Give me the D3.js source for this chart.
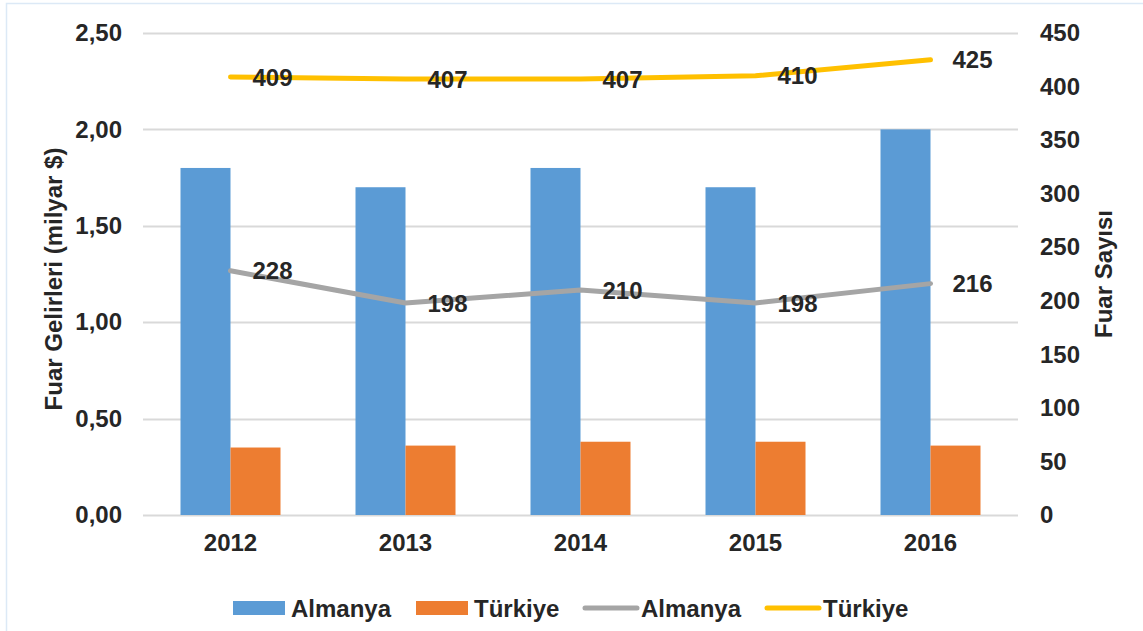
<!DOCTYPE html>
<html>
<head>
<meta charset="utf-8">
<script src="https://cdn.jsdelivr.net/npm/d3@7"></script>
<style>
  body { margin: 0; background: #fff; }
  svg { display: block; font-family: "Liberation Sans", Arial, sans-serif; }
</style>
</head>
<body>
<svg id="drawing_region"></svg>
<script>
// data
const years = ['2012', '2013', '2014', '2015', '2016'];
const gelirAlmanya = [1.80, 1.70, 1.80, 1.70, 2.00];
const gelirTurkiye = [0.35, 0.36, 0.38, 0.38, 0.36];
const sayiAlmanya = [228, 198, 210, 198, 216];
const sayiTurkiye = [409, 407, 407, 410, 425];
const leftTicks = [0, 0.5, 1.0, 1.5, 2.0, 2.5];
const rightTicks = [0, 50, 100, 150, 200, 250, 300, 350, 400, 450];

const colors = { barDe: '#5B9BD5', barTr: '#ED7D31', lineDe: '#A5A5A5', lineTr: '#FFC000' };
const textColor = '#262626';
const fontSize = '24px';

const config = {
    width: 1143,
    height: 631,
    margin: {top: 33, right: 125, bottom: 116, left: 143}
};

const svg = d3.select('#drawing_region')
    .attr('width', config.width)
    .attr('height', config.height);

// faint frame
svg.append('rect')
    .attr('x', 6.5).attr('y', 3.5)
    .attr('width', config.width).attr('height', config.height)
    .attr('fill', 'none')
    .attr('stroke', '#dce9f6')
    .attr('stroke-width', 1.5);

const inner_width = config.width - config.margin.left - config.margin.right;
const inner_height = config.height - config.margin.top - config.margin.bottom;

const chart = svg.append('g')
    .attr('transform', `translate(${config.margin.left}, ${config.margin.top})`);

const xscale = d3.scaleBand()
    .domain(years)
    .range([0, inner_width])
    .paddingInner(75 / 175)
    .paddingOuter(37.5 / 175);

const sub = d3.scaleBand()
    .domain(['de', 'tr'])
    .range([0, xscale.bandwidth()]);

const yleft = d3.scaleLinear().domain([0, 2.5]).range([inner_height, 0]);
const yright = d3.scaleLinear().domain([0, 450]).range([inner_height, 0]);

// gridlines
chart.append('g')
    .selectAll('line')
    .data(leftTicks)
    .join('line')
    .attr('x1', 0)
    .attr('x2', inner_width)
    .attr('y1', d => Math.round(yleft(d)) + 0.5)
    .attr('y2', d => Math.round(yleft(d)) + 0.5)
    .attr('stroke', '#d9d9d9')
    .attr('stroke-width', 2);

// axes
const fmt = d => d.toFixed(2).replace('.', ',');
const yaxisL = chart.append('g')
    .call(d3.axisLeft(yleft).tickValues(leftTicks).tickFormat(fmt).tickSize(0).tickPadding(21));
const yaxisR = chart.append('g')
    .attr('transform', `translate(${inner_width}, 0)`)
    .call(d3.axisRight(yright).tickValues(rightTicks).tickSize(0).tickPadding(22));
const xaxis = chart.append('g')
    .attr('transform', `translate(0, ${inner_height})`)
    .call(d3.axisBottom(xscale).tickSize(0).tickPadding(19));

[yaxisL, yaxisR, xaxis].forEach(g => {
    g.select('.domain').remove();
    g.selectAll('text')
        .attr('fill', textColor)
        .style('font-size', fontSize)
        .style('font-weight', 'bold')
        .style('font-family', '"Liberation Sans", Arial, sans-serif');
});

// bars
const groups = chart.append('g')
    .selectAll('g')
    .data(years)
    .join('g')
    .attr('transform', d => `translate(${xscale(d)}, 0)`);

groups.append('rect')
    .attr('x', sub('de'))
    .attr('y', (d, i) => yleft(gelirAlmanya[i]))
    .attr('width', sub.bandwidth())
    .attr('height', (d, i) => inner_height - yleft(gelirAlmanya[i]))
    .attr('fill', colors.barDe);

groups.append('rect')
    .attr('x', sub('tr'))
    .attr('y', (d, i) => yleft(gelirTurkiye[i]))
    .attr('width', sub.bandwidth())
    .attr('height', (d, i) => inner_height - yleft(gelirTurkiye[i]))
    .attr('fill', colors.barTr);

// lines on the right axis
const cx = d => xscale(d) + xscale.bandwidth() / 2;
const line = d3.line()
    .x(d => cx(d.year))
    .y(d => yright(d.value));

const series = [
    { values: sayiAlmanya, color: colors.lineDe },
    { values: sayiTurkiye, color: colors.lineTr }
];

series.forEach(s => {
    const pts = years.map((y, i) => ({ year: y, value: s.values[i] }));
    chart.append('path')
        .datum(pts)
        .attr('d', line)
        .attr('fill', 'none')
        .attr('stroke', s.color)
        .attr('stroke-width', 5)
        .attr('stroke-linecap', 'round')
        .attr('stroke-linejoin', 'round');

    chart.append('g')
        .selectAll('text')
        .data(pts)
        .join('text')
        .attr('x', d => cx(d.year) + 22)
        .attr('y', d => yright(d.value))
        .attr('dy', '0.36em')
        .attr('fill', textColor)
        .style('font-size', fontSize)
        .style('font-weight', 'bold')
        .text(d => d.value);
});

// axis titles
svg.append('text')
    .attr('transform', 'translate(62, 279) rotate(-90)')
    .attr('text-anchor', 'middle')
    .attr('fill', textColor)
    .style('font-size', fontSize)
    .style('font-weight', 'bold')
    .text('Fuar Gelirleri (milyar $)');

svg.append('text')
    .attr('transform', 'translate(1112, 274) rotate(-90)')
    .attr('text-anchor', 'middle')
    .attr('fill', textColor)
    .style('font-size', fontSize)
    .style('font-weight', 'bold')
    .text('Fuar Sayısı');

// legend
const legendItems = [
    { label: 'Almanya', color: colors.barDe, type: 'rect', x: 233 },
    { label: 'Türkiye', color: colors.barTr, type: 'rect', x: 416 },
    { label: 'Almanya', color: colors.lineDe, type: 'line', x: 583 },
    { label: 'Türkiye', color: colors.lineTr, type: 'line', x: 765 }
];
const legendY = 608;
const legend = svg.append('g')
    .selectAll('g')
    .data(legendItems)
    .join('g')
    .attr('transform', d => `translate(${d.x}, ${legendY})`);

legend.filter(d => d.type === 'rect')
    .append('rect')
    .attr('x', 0).attr('y', -7)
    .attr('width', 52).attr('height', 14)
    .attr('fill', d => d.color);

legend.filter(d => d.type === 'line')
    .append('line')
    .attr('x1', 2).attr('x2', 54)
    .attr('y1', 0).attr('y2', 0)
    .attr('stroke', d => d.color)
    .attr('stroke-width', 5)
    .attr('stroke-linecap', 'round');

legend.append('text')
    .attr('x', 58)
    .attr('y', 0)
    .attr('dy', '0.36em')
    .attr('fill', textColor)
    .style('font-size', fontSize)
    .style('font-weight', 'bold')
    .text(d => d.label);
</script>
</body>
</html>
